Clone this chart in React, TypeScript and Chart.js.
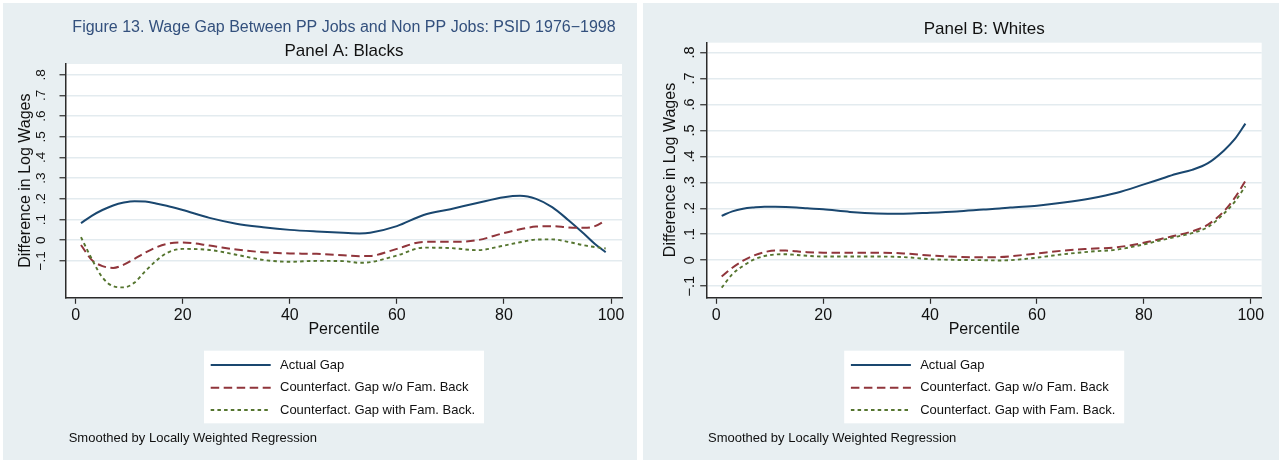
import React, { useEffect, useRef } from "react";
import { Chart, registerables } from "chart.js";

Chart.register(...registerables);

// ---------------- data ----------------
const percentiles = [1, 3, 5, 7, 9, 11, 13, 15, 17, 20, 25, 30, 35, 40, 45, 50, 53, 55, 60, 65, 70, 75, 80, 83, 86, 89, 92, 95, 97, 99];

const blacksActual = [0.083, 0.118, 0.146, 0.168, 0.182, 0.189, 0.187, 0.178, 0.167, 0.146, 0.108, 0.08, 0.063, 0.05, 0.042, 0.036, 0.033, 0.036, 0.068, 0.122, 0.15, 0.18, 0.208, 0.215, 0.2, 0.16, 0.098, 0.03, -0.018, -0.058];
const blacksNoFam = [-0.023, -0.095, -0.125, -0.134, -0.118, -0.09, -0.06, -0.035, -0.018, -0.011, -0.026, -0.045, -0.058, -0.064, -0.066, -0.073, -0.077, -0.076, -0.042, -0.008, -0.008, 0.0, 0.035, 0.053, 0.066, 0.068, 0.062, 0.06, 0.068, 0.096];
const blacksWithFam = [0.015, -0.09, -0.18, -0.222, -0.228, -0.205, -0.15, -0.1, -0.062, -0.042, -0.047, -0.07, -0.095, -0.104, -0.1, -0.101, -0.109, -0.106, -0.074, -0.036, -0.038, -0.048, -0.026, -0.01, 0.003, 0.004, -0.008, -0.025, -0.033, -0.04];

const whitesActual = [0.171, 0.188, 0.198, 0.203, 0.206, 0.206, 0.205, 0.203, 0.2, 0.196, 0.186, 0.18, 0.179, 0.183, 0.188, 0.195, 0.199, 0.203, 0.21, 0.222, 0.238, 0.26, 0.292, 0.312, 0.332, 0.348, 0.374, 0.423, 0.466, 0.526];
const whitesNoFam = [-0.063, -0.029, -0.002, 0.018, 0.031, 0.037, 0.037, 0.034, 0.031, 0.029, 0.029, 0.029, 0.026, 0.018, 0.013, 0.011, 0.012, 0.015, 0.026, 0.037, 0.044, 0.05, 0.067, 0.081, 0.095, 0.111, 0.137, 0.189, 0.24, 0.305];
const whitesWithFam = [-0.106, -0.054, -0.022, 0.002, 0.016, 0.022, 0.023, 0.02, 0.017, 0.014, 0.014, 0.014, 0.012, 0.004, 0.001, 0.0, -0.001, 0.0, 0.01, 0.023, 0.033, 0.041, 0.061, 0.076, 0.09, 0.104, 0.128, 0.18, 0.225, 0.285];

const xTicks = [0, 20, 40, 60, 80, 100];
const yTicks = [-0.1, 0, 0.1, 0.2, 0.3, 0.4, 0.5, 0.6, 0.7, 0.8];
const yTickLabels = ["\u2212.1", "0", ".1", ".2", ".3", ".4", ".5", ".6", ".7", ".8"];

const seriesLabels = ["Actual Gap", "Counterfact. Gap w/o Fam. Back", "Counterfact. Gap with Fam. Back."];
const figureTitle = "Figure 13. Wage Gap Between PP Jobs and Non PP Jobs: PSID 1976\u22121998";
const panelATitle = "Panel A: Blacks";
const panelBTitle = "Panel B: Whites";
const xAxisTitle = "Percentile";
const yAxisTitle = "Difference in Log Wages";
const noteText = "Smoothed by Locally Weighted Regression";

// ---------------- styles ----------------
const FONT = '"Liberation Sans", Arial, Helvetica, sans-serif';
const PANEL_BG = "#e8eff2";
const GRID = "#e3ebef";
const AXIS = "#2b2b2b";
const TEXT = "#111111";
const SERIES_COLORS = ["#1a476f", "#90353b", "#55752f"];
const SERIES_DASH: number[][] = [[], [8.5, 4.5], [3.5, 3.2]];
const SERIES_WIDTH = [2, 2, 1.9];

type PanelCfg = {
  left: number;
  width: number;
  height: number;
  titles: { text: string; size: number; color: string; padTop: number; padBottom: number }[];
  yMin: number;
  yMax: number;
  padRight: number;
  padBottom: number;
  yWidth: number;
  xHeight: number;
  yTitlePad: number;
  yLabelX: number;
  yLabelSize: number;
  legendTop: number;
  noteX: number;
  noteY: number;
  series: number[][];
};

const panelA: PanelCfg = {
  left: 3,
  width: 634,
  height: 457,
  titles: [
    { text: figureTitle, size: 16, color: "#33507d", padTop: 15.4, padBottom: 3.2 },
    { text: panelATitle, size: 17, color: TEXT, padTop: 0, padBottom: 2.8 },
  ],
  yMin: -0.276,
  yMax: 0.852,
  padRight: 15,
  padBottom: 120.7,
  yWidth: 63,
  xHeight: 42,
  yTitlePad: 12.9,
  yLabelX: 38.2,
  yLabelSize: 13.5,
  legendTop: 347.7,
  noteX: 65.7,
  noteY: 435.3,
  series: [blacksActual, blacksNoFam, blacksWithFam],
};

const panelB: PanelCfg = {
  left: 643,
  width: 636,
  height: 457,
  titles: [{ text: panelBTitle, size: 17, color: TEXT, padTop: 15.8, padBottom: 3.5 }],
  yMin: -0.143,
  yMax: 0.838,
  padRight: 17.3,
  padBottom: 120.7,
  yWidth: 63.7,
  xHeight: 42,
  yTitlePad: 18.4,
  yLabelX: 46.7,
  yLabelSize: 14.5,
  legendTop: 347.7,
  noteX: 65,
  noteY: 435.3,
  series: [whitesActual, whitesNoFam, whitesWithFam],
};

function Panel({ cfg }: { cfg: PanelCfg }) {
  const ref = useRef<HTMLCanvasElement | null>(null);

  useEffect(() => {
    if (!ref.current) return;

    const decor = {
      id: "panelDecor",
      beforeDraw(chart: any) {
        const { ctx, chartArea: a, width, height } = chart;
        ctx.save();
        ctx.fillStyle = PANEL_BG;
        ctx.fillRect(0, 0, width, height);
        ctx.fillStyle = "#ffffff";
        ctx.fillRect(a.left, a.top, a.right - a.left, a.bottom - a.top);
        ctx.restore();
      },
      afterDraw(chart: any) {
        const { ctx, chartArea: a } = chart;
        const ys = chart.scales.y;
        ctx.save();
        // rotated y tick labels
        ctx.fillStyle = TEXT;
        ctx.font = `${cfg.yLabelSize}px ${FONT}`;
        ctx.textAlign = "center";
        ctx.textBaseline = "middle";
        ys.ticks.forEach((t: any) => {
          const idx = yTicks.indexOf(t.value);
          if (idx < 0) return;
          const py = ys.getPixelForValue(t.value);
          ctx.save();
          ctx.translate(cfg.yLabelX, py);
          ctx.rotate(-Math.PI / 2);
          ctx.fillText(yTickLabels[idx], 0, 0);
          ctx.restore();
        });

        // legend box
        const boxW = 280;
        const boxH = 72.6;
        const cx = (a.left + a.right) / 2;
        const bx = cx - boxW / 2;
        const by = cfg.legendTop;
        ctx.fillStyle = "#ffffff";
        ctx.fillRect(bx, by, boxW, boxH);
        const rowOffsets = [14.3, 37, 59.3];
        chart.data.datasets.forEach((ds: any, i: number) => {
          const ry = by + rowOffsets[i];
          ctx.save();
          ctx.strokeStyle = ds.borderColor;
          ctx.lineWidth = ds.borderWidth;
          ctx.setLineDash(ds.borderDash || []);
          ctx.beginPath();
          ctx.moveTo(bx + 6.7, ry);
          ctx.lineTo(bx + 66.7, ry);
          ctx.stroke();
          ctx.restore();
          ctx.fillStyle = TEXT;
          ctx.font = `13px ${FONT}`;
          ctx.textAlign = "left";
          ctx.textBaseline = "middle";
          ctx.fillText(ds.label, bx + 76, ry);
        });

        // note
        ctx.fillStyle = TEXT;
        ctx.font = `13px ${FONT}`;
        ctx.textAlign = "left";
        ctx.textBaseline = "middle";
        ctx.fillText(noteText, cfg.noteX, cfg.noteY);
        ctx.restore();
      },
    };

    const datasets = cfg.series.map((vals, i) => ({
      label: seriesLabels[i],
      data: percentiles.map((p, j) => ({ x: p, y: vals[j] })),
      borderColor: SERIES_COLORS[i],
      backgroundColor: SERIES_COLORS[i],
      borderWidth: SERIES_WIDTH[i],
      borderDash: SERIES_DASH[i],
      pointRadius: 0,
      fill: false,
      cubicInterpolationMode: "monotone" as const,
      order: 3 - i,
    }));

    const titlePlugins: any = {};
    const t0 = cfg.titles[0];
    titlePlugins.title = {
      display: true,
      text: t0.text,
      color: t0.color,
      fullSize: false,
      font: { family: FONT, size: t0.size, weight: "normal", lineHeight: 1.2 },
      padding: { top: t0.padTop, bottom: t0.padBottom },
    };
    if (cfg.titles[1]) {
      const t1 = cfg.titles[1];
      titlePlugins.subtitle = {
        display: true,
        text: t1.text,
        color: t1.color,
        fullSize: false,
        font: { family: FONT, size: t1.size, weight: "normal", lineHeight: 1.2 },
        padding: { top: t1.padTop, bottom: t1.padBottom },
      };
    }

    const chart = new Chart(ref.current, {
      type: "line",
      data: { datasets },
      plugins: [decor],
      options: {
        responsive: false,
        animation: false,
        events: [],
        layout: { padding: { left: 0, top: 0, right: cfg.padRight, bottom: cfg.padBottom } },
        plugins: {
          legend: { display: false },
          tooltip: { enabled: false },
          ...titlePlugins,
        },
        scales: {
          x: {
            type: "linear",
            min: -1.8,
            max: 102.05,
            afterBuildTicks: (scale: any) => {
              scale.ticks = xTicks.map((v) => ({ value: v }));
            },
            afterFit: (scale: any) => {
              scale.height = cfg.xHeight;
            },
            grid: {
              drawOnChartArea: false,
              drawTicks: true,
              tickLength: 6.5,
              tickColor: AXIS,
              tickWidth: 1.2,
            },
            border: { display: true, color: AXIS, width: 1.5 },
            ticks: {
              color: TEXT,
              padding: 2,
              maxRotation: 0,
              font: { family: FONT, size: 16 },
              callback: (v: any) => String(v),
            },
            title: {
              display: true,
              text: xAxisTitle,
              color: TEXT,
              font: { family: FONT, size: 16, lineHeight: 1.2 },
              padding: { top: 0, bottom: 0 },
            },
          },
          y: {
            type: "linear",
            min: cfg.yMin,
            max: cfg.yMax,
            afterBuildTicks: (scale: any) => {
              scale.ticks = yTicks.map((v) => ({ value: v }));
            },
            afterFit: (scale: any) => {
              scale.width = cfg.yWidth;
            },
            grid: {
              color: GRID,
              lineWidth: 1.5,
              drawTicks: true,
              tickLength: 6.5,
              tickColor: AXIS,
              tickWidth: 1.2,
            },
            border: { display: true, color: AXIS, width: 1.5 },
            ticks: { display: false },
            title: {
              display: true,
              text: yAxisTitle,
              color: TEXT,
              font: { family: FONT, size: 16, lineHeight: 1.2 },
              padding: { top: cfg.yTitlePad, bottom: 0 },
            },
          },
        },
      } as any,
    });

    return () => chart.destroy();
  }, [cfg]);

  return (
    <div
      style={{
        position: "absolute",
        left: cfg.left,
        top: 3,
        width: cfg.width,
        height: cfg.height,
        background: PANEL_BG,
      }}
    >
      <canvas
        ref={ref}
        width={cfg.width}
        height={cfg.height}
        style={{ display: "block", width: cfg.width, height: cfg.height }}
      />
    </div>
  );
}

export default function App() {
  return (
    <div
      style={{
        position: "fixed",
        left: 0,
        top: 0,
        width: 1282,
        height: 463,
        background: "#ffffff",
        overflow: "hidden",
      }}
    >
      <Panel cfg={panelA} />
      <Panel cfg={panelB} />
    </div>
  );
}
